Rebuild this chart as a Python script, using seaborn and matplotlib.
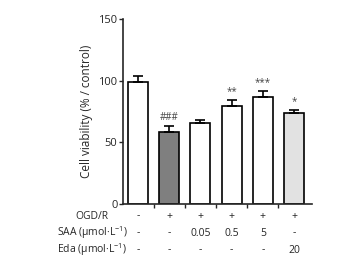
import matplotlib
matplotlib.use("Agg")
import matplotlib.pyplot as plt
import seaborn as sns
import pandas as pd
import numpy as np

groups = ["Control", "OGD/R", "SAA 0.05", "SAA 0.5", "SAA 5", "Eda 20"]
means = [99, 58, 65.5, 79.7, 87, 73.8]
sems = [5, 5.5, 2.2, 4.6, 4.6, 2.7]
colors = ["#ffffff", "#7f7f7f", "#ffffff", "#ffffff", "#ffffff", "#e2e2e2"]
marks = ["", "###", "", "**", "***", "*"]
row_labels = ["OGD/R", r"SAA (μmol·L$^{-1}$)", r"Eda (μmol·L$^{-1}$)"]
ogd_row = ["-", "+", "+", "+", "+", "+"]
saa_row = ["-", "-", "0.05", "0.5", "5", "-"]
eda_row = ["-", "-", "-", "-", "-", "20"]
yticks = [0, 50, 100, 150]

sns.set_style("ticks")
plt.rcParams["font.family"] = ["Open Sans", "DejaVu Sans"]
plt.rcParams["mathtext.fontset"] = "custom"
plt.rcParams["mathtext.rm"] = "Open Sans"
plt.rcParams["mathtext.default"] = "regular"

df = pd.DataFrame({"group": groups, "mean": means})
fig = plt.figure(figsize=(3.4, 2.6), dpi=100)
ax = fig.add_axes([0.362, 0.2154, 0.556, 0.7116])
sns.barplot(data=df, x="group", y="mean", hue="group", palette=colors,
            legend=False, width=0.64, edgecolor="black", linewidth=1.2, ax=ax)
x = np.arange(len(groups))
ax.errorbar(x, means, yerr=[np.zeros(len(sems)), sems], fmt="none",
            ecolor="black", elinewidth=1.2, capsize=3.5, capthick=1.2, zorder=5)
for xi, m, s, t in zip(x, means, sems, marks):
    if t:
        ax.text(xi, m + s + 2, t, ha="center", va="bottom", fontsize=7, color="#444444")

ax.set_xlim(-0.48, 5.58)
ax.set_ylim(0, 150)
ax.set_yticks(yticks)
ax.set_ylabel("Cell viability (% / control)", fontsize=8.5, labelpad=4)
ax.set_xlabel("")
ax.set_xticks(np.arange(0.5, 5.5, 1.0))
ax.set_xticklabels([])
ax.tick_params(axis="x", length=3, width=1, direction="out")
ax.tick_params(axis="y", labelsize=8, length=3, width=1, pad=1)
for sp in ["top", "right"]:
    ax.spines[sp].set_visible(False)
for sp in ["left", "bottom"]:
    ax.spines[sp].set_linewidth(1.2)

trans = ax.get_xaxis_transform()
rows = [ogd_row, saa_row, eda_row]
ys = [-0.065, -0.157, -0.249]
for lbl, row, yy in zip(row_labels, rows, ys):
    ax.text(-1.47, yy, lbl, transform=trans, ha="center", va="center", fontsize=7.5)
    for xi, v in zip(x, row):
        ax.text(xi, yy, v, transform=trans, ha="center", va="center", fontsize=7.5)

fig.savefig("out.png", dpi=100)
